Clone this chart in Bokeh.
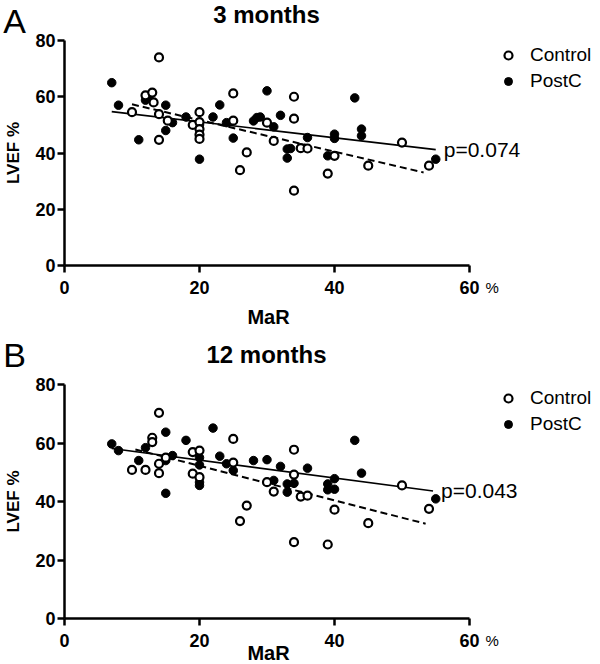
import math
from bokeh.plotting import figure
from bokeh.models import Range1d, FixedTicker, Legend, LegendItem
from bokeh.core.properties import value
from bokeh.layouts import column
from bokeh.embed import file_html
from bokeh.resources import INLINE

FONT = "Liberation Sans"

# ---------------- data ----------------
x_ticks = [0, 20, 40, 60]
y_ticks = [0, 20, 40, 60, 80]

# Panel A: 3 months
a_ctrl_x = [10, 12, 13, 13.2, 14, 14, 14, 15.3, 19, 20, 20, 20, 20, 20, 25, 25, 27, 26, 30, 31, 34, 34, 34, 35, 36, 39, 40, 45, 50, 54]
a_ctrl_y = [54.5, 60.5, 61.5, 58, 74, 53.8, 44.7, 51.5, 50, 54.5, 51, 48.5, 46.5, 45, 61.2, 51.5, 40.2, 33.9, 50.8, 44.3, 60, 52.2, 26.6, 41.7, 41.6, 32.7, 39, 35.5, 43.7, 35.5]
a_post_x = [7, 8, 11, 12, 12.5, 15, 15, 16, 18, 20, 20, 22, 23, 24, 25, 28, 28.5, 29, 30, 31, 32, 33, 33.5, 33, 36, 40, 40, 39, 43, 44, 44, 55]
a_post_y = [65, 57, 44.7, 58.8, 60, 57, 48, 50.8, 52.8, 37.8, 50, 52.8, 57.1, 50.8, 45.3, 51.4, 52.6, 52.8, 62.1, 49.3, 53.4, 41.4, 41.6, 38.2, 45.5, 46.7, 45.2, 39, 59.6, 48.5, 46.1, 37.8]
a_ctrl_fit_x = [10, 53.2]
a_ctrl_fit_y = [57.3, 33.1]
a_post_fit_x = [7, 55]
a_post_fit_y = [54.7, 41.2]
a_p_text = "p=0.074"

# Panel B: 12 months
b_ctrl_x = [10, 12, 13, 13, 14, 14, 14, 15, 19, 20, 19, 20, 25, 25, 27, 26, 30, 31, 34, 34, 34, 35, 36, 39, 40, 45, 50, 54]
b_ctrl_y = [50.8, 50.8, 61.8, 60.3, 70.3, 52.9, 49.7, 55, 56.9, 57.4, 49.5, 48.3, 61.4, 53.3, 38.6, 33.3, 46.6, 43.4, 57.7, 49.2, 26.1, 41.7, 42, 25.3, 37.2, 32.6, 45.5, 37.5]
b_post_x = [7, 8, 11, 12, 15, 15, 16, 15, 18, 20, 20, 20, 20, 22, 23, 24, 25, 28, 30, 32, 31, 33, 33, 34, 36, 39, 40, 40, 39, 43, 44, 55]
b_post_y = [59.7, 57.4, 54, 58.4, 63.7, 54, 55.7, 42.8, 60.9, 55, 52.5, 46.6, 45.5, 65.1, 55.5, 52.9, 50.6, 54, 54.3, 52, 47.2, 46, 43.2, 46.2, 51.4, 46, 47.8, 44.2, 44, 60.9, 49.7, 40.9]
b_ctrl_fit_x = [10.5, 53.5]
b_ctrl_fit_y = [57.8, 32.4]
b_post_fit_x = [7, 54.6]
b_post_fit_y = [58.1, 43.6]
b_p_text = "p=0.043"

WIDTH = 600
X0_PX, X60_PX = 64, 469          # page x of x=0 and x=60


def make_panel(letter, title, cx, cy, px, py, cfx, cfy, pfx, pfy, ptext,
               height, y80_px, y0_px, title_px, letter_px, mar_px, legend_top_px):
    # pixel layout (figure coords, top-left origin) -> data ranges
    sx = (X60_PX - X0_PX) / 60.0
    sy = (y0_px - y80_px) / 80.0
    x_range = Range1d(-X0_PX / sx, (WIDTH - X0_PX) / sx)
    y_range = Range1d(-(height - y0_px) / sy, 80 + y80_px / sy)

    def dx(px_):
        return (px_ - X0_PX) / sx

    def dy(py_):
        return (y0_px - py_) / sy

    p = figure(width=WIDTH, height=height, x_range=x_range, y_range=y_range,
               min_border=0, output_backend="svg", toolbar_location=None, title=None)
    p.outline_line_color = None
    p.grid.visible = False
    p.background_fill_color = "white"
    p.border_fill_color = "white"

    p.xaxis.fixed_location = 0
    p.yaxis.fixed_location = 0
    p.xaxis.bounds = (0, 60)
    p.yaxis.bounds = (0, 80)
    for ax, ticks in ((p.xaxis[0], x_ticks), (p.yaxis[0], y_ticks)):
        ax.ticker = FixedTicker(ticks=ticks)
        ax.axis_line_width = 2.5
        ax.axis_line_color = "black"
        ax.major_tick_line_width = 2.5
        ax.major_tick_line_color = "black"
        ax.major_tick_out = 7
        ax.major_tick_in = 0
        ax.minor_tick_line_color = None
        ax.major_label_text_font = FONT
        ax.major_label_text_font_style = "bold"
        ax.major_label_text_font_size = "18px"
        ax.major_label_text_color = "black"
    p.xaxis.major_label_standoff = 8
    p.yaxis.major_label_standoff = 2

    p.line(pfx, pfy, line_color="black", line_width=1.6)
    p.line(cfx, cfy, line_color="black", line_width=2, line_dash="7 4")
    rp = p.scatter(px, py, size=8.5, marker="circle", fill_color="black", line_color="black",
                   line_width=1)
    rc = p.scatter(cx, cy, size=8, marker="circle", fill_color="white", line_color="black",
                   line_width=2.2)

    # texts
    p.text(x=[dx(268)], y=[dy(mar_px)], text=["MaR"], text_font=value(FONT),
           text_font_style="bold", text_font_size="20px", text_align="center",
           text_baseline="middle", text_color="black")
    p.text(x=[dx(13)], y=[40], text=["LVEF %"], text_font=value(FONT),
           text_font_style="bold", text_font_size="17px", text_align="center",
           text_baseline="middle", text_color="black", angle=math.pi / 2)
    p.text(x=[dx(485)], y=[dy(y0_px + 22)], text=["%"], text_font=value(FONT),
           text_font_size="15px", text_align="left", text_baseline="middle",
           text_color="black")
    p.text(x=[pfx[-1]], y=[pfy[-1]], x_offset=8, text=[ptext], text_font=value(FONT),
           text_font_size="21px", text_align="left", text_baseline="middle",
           text_color="black")
    p.text(x=[dx(266)], y=[dy(title_px)], text=[title], text_font=value(FONT),
           text_font_style="bold", text_font_size="24px", text_align="center",
           text_baseline="middle", text_color="black")
    p.text(x=[dx(14)], y=[dy(letter_px)], text=[letter], text_font=value(FONT),
           text_font_size="34px", text_align="center", text_baseline="middle",
           text_color="black")

    legend = Legend(items=[LegendItem(label="Control", renderers=[rc]),
                           LegendItem(label="PostC", renderers=[rp])],
                    location=(498, height - legend_top_px - 44), margin=0, padding=0,
                    spacing=4, glyph_width=20, glyph_height=20, label_height=20,
                    label_standoff=12, border_line_color=None, background_fill_alpha=0,
                    label_text_font=FONT, label_text_font_size="19px",
                    label_text_color="black")
    p.add_layout(legend, "center")
    return p


pa = make_panel("A", "3 months", a_ctrl_x, a_ctrl_y, a_post_x, a_post_y,
                a_ctrl_fit_x, a_ctrl_fit_y, a_post_fit_x, a_post_fit_y, a_p_text,
                height=334, y80_px=40, y0_px=265, title_px=14, letter_px=20,
                mar_px=316, legend_top_px=48)
pb = make_panel("B", "12 months", b_ctrl_x, b_ctrl_y, b_post_x, b_post_y,
                b_ctrl_fit_x, b_ctrl_fit_y, b_post_fit_x, b_post_fit_y, b_p_text,
                height=328, y80_px=384 - 334, y0_px=618 - 334, title_px=354 - 334,
                letter_px=354 - 334, mar_px=652 - 334, legend_top_px=391 - 334)

layout = column(pa, pb, spacing=0)
open("out.html", "w").write(file_html(layout, INLINE))
